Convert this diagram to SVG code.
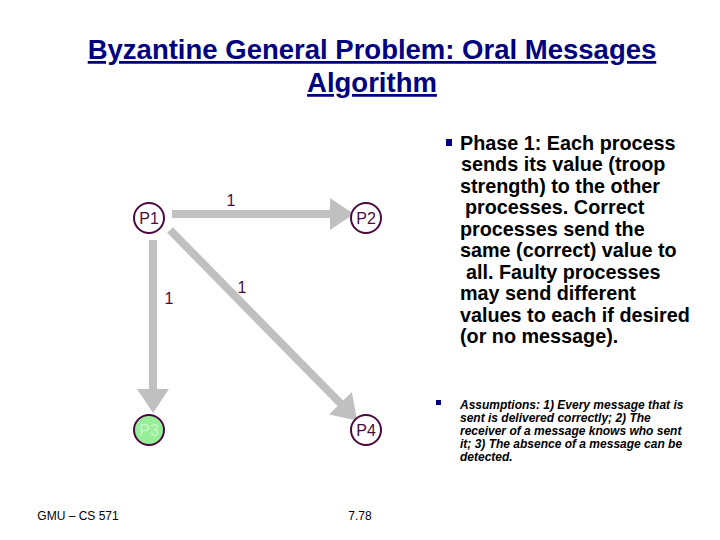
<svg xmlns="http://www.w3.org/2000/svg" width="720" height="540" viewBox="0 0 720 540">
<style>
.t{font-family:"Liberation Sans",Arial,sans-serif}
.title{font-size:27.5px;font-weight:bold;fill:#000080;text-decoration:underline}
.n{fill:#fff;stroke:#4a0a3f;stroke-width:2}
.nl{font-size:16px;fill:#4a0a3f;text-anchor:middle}
.e{stroke:#c0c0c0;stroke-width:8;fill:none}
.el{font-size:16px;fill:#4a0a3f;text-anchor:middle}
.b{font-size:19.8px;font-weight:bold;fill:#000}
.s{font-size:12px;font-weight:bold;font-style:italic;fill:#000}
</style>
<defs>
<marker id="ah" markerWidth="4" markerHeight="4" refX="1" refY="2" orient="auto" markerUnits="strokeWidth">
<path d="M0,0 L3,2 L0,4 Z" fill="#c0c0c0"/>
</marker>
</defs>
<rect width="720" height="540" fill="#fff"/>
<text class="t title" x="372" y="59" text-anchor="middle">Byzantine General Problem: Oral Messages</text>
<text class="t title" x="372" y="92" text-anchor="middle">Algorithm</text>
<g id="connectors">
<line class="e" x1="172" y1="214" x2="338" y2="214" marker-end="url(#ah)"/>
<line class="e" x1="153" y1="240" x2="153" y2="397" marker-end="url(#ah)"/>
<line class="e" x1="170" y1="230" x2="346" y2="409" marker-end="url(#ah)"/>
<text class="t el" x="231" y="206">1</text>
<text class="t el" x="169" y="304">1</text>
<text class="t el" x="242" y="293">1</text>
</g>
<g id="P1"><circle class="n" cx="149" cy="218" r="15"/><text class="t nl" x="149" y="224">P1</text></g>
<g id="P2"><circle class="n" cx="366" cy="218" r="15"/><text class="t nl" x="366" y="224">P2</text></g>
<g id="P3"><circle cx="149" cy="430" r="15" fill="#99ee99" stroke="#4a0a3f" stroke-width="2"/><text class="t nl" x="149" y="436" style="fill:#c8f5c8">P3</text></g>
<g id="P4"><circle class="n" cx="366" cy="430" r="15"/><text class="t nl" x="366" y="436">P4</text></g>
<rect x="446" y="139" width="6" height="7" fill="#000080"/>
<text class="t b">
<tspan x="460" y="150">Phase 1: Each process</tspan>
<tspan x="461" y="171">sends its value (troop</tspan>
<tspan x="460" y="193">strength) to the other</tspan>
<tspan x="465" y="214">processes.  Correct</tspan>
<tspan x="460" y="236">processes send the</tspan>
<tspan x="460" y="257">same (correct) value to</tspan>
<tspan x="466" y="279">all.  Faulty processes</tspan>
<tspan x="460" y="300">may send different</tspan>
<tspan x="460" y="322">values to each if desired</tspan>
<tspan x="460" y="343">(or no message).</tspan>
</text>
<rect x="436" y="400" width="5" height="5" fill="#000080"/>
<text class="t s">
<tspan x="460" y="409">Assumptions: 1) Every message that is</tspan>
<tspan x="460" y="422">sent is delivered correctly; 2) The</tspan>
<tspan x="460" y="435">receiver of a message knows who sent</tspan>
<tspan x="460" y="448">it; 3) The absence of a message can be</tspan>
<tspan x="460" y="461">detected.</tspan>
</text>
<text class="t" x="78" y="520" text-anchor="middle" font-size="12">GMU – CS 571</text>
<text class="t" x="360" y="520" text-anchor="middle" font-size="12">7.78</text>
</svg>
